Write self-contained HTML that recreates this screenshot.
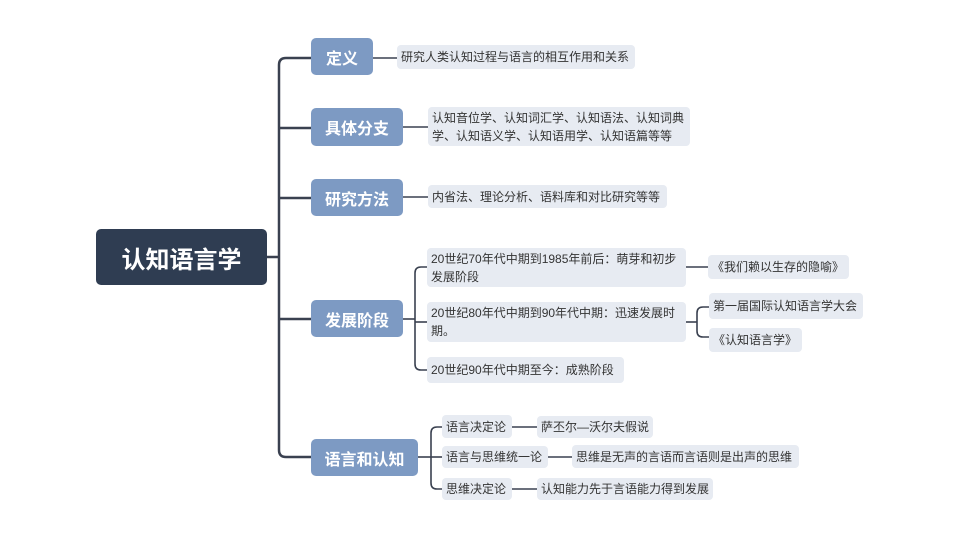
<!DOCTYPE html>
<html><head><meta charset="utf-8">
<style>
html,body{margin:0;padding:0;background:#fff;}
body{width:960px;height:540px;position:relative;overflow:hidden;font-family:"Liberation Sans","Noto Sans CJK SC",sans-serif;}
.b{position:absolute;display:flex;align-items:center;justify-content:center;color:#fff;font-weight:bold;border-radius:5px;background:#7d9ac3;font-size:16px;}
.root{background:#2f3d52;font-size:24px;border-radius:5px;}
.l{position:absolute;display:flex;align-items:center;background:#e7ebf2;color:#333;font-size:12px;line-height:18px;border-radius:4px;padding:0 4px;box-sizing:border-box;white-space:nowrap;}
svg{position:absolute;left:0;top:0;}
</style></head><body>
<svg width="960" height="540">
<g fill="none" stroke="#3a4150" stroke-width="2.5" stroke-linecap="butt">
<path d="M267 257 H279"/>
<path d="M311 58 H286 Q279 58 279 65 V450 Q279 457 286 457 H311"/>
<path d="M279 128 H311"/>
<path d="M279 198 H311"/>
<path d="M279 319 H311"/>
</g>
<g fill="none" stroke="#3a4150" stroke-width="1.6">
<path d="M373 58 H397"/>
<path d="M403 127 H428"/>
<path d="M403 197 H428"/>
<path d="M403 319 H415"/>
<path d="M427 267 H421 Q415 267 415 273 V364 Q415 370 421 370 H427"/>
<path d="M415 322 H427"/>
<path d="M686 267 H708"/>
<path d="M686 322 H697"/>
<path d="M709 307 H703 Q697 307 697 313 V331 Q697 337 703 337 H709"/>
<path d="M418 457 H431"/>
<path d="M442 427 H437 Q431 427 431 433 V483 Q431 489 437 489 H442"/>
<path d="M431 457 H442"/>
<path d="M512 427 H537"/>
<path d="M548 457 H572"/>
<path d="M512 489 H537"/>
</g>
</svg>

<div class="b root" style="left:96px;top:229px;width:171px;height:56px;">认知语言学</div>
<div class="b" style="left:311px;top:38px;width:62px;height:37px;">定义</div>
<div class="b" style="left:311px;top:108px;width:92px;height:38px;">具体分支</div>
<div class="b" style="left:311px;top:179px;width:92px;height:37px;">研究方法</div>
<div class="b" style="left:311px;top:300px;width:92px;height:37px;">发展阶段</div>
<div class="b" style="left:311px;top:439px;width:107px;height:37px;">语言和认知</div>

<div class="l" style="left:397px;top:45px;width:238px;height:24px;">研究人类认知过程与语言的相互作用和关系</div>
<div class="l" style="left:428px;top:107px;width:262px;height:39px;"><div>认知音位学、认知词汇学、认知语法、认知词典<br>学、认知语义学、认知语用学、认知语篇等等</div></div>
<div class="l" style="left:428px;top:185px;width:239px;height:23px;">内省法、理论分析、语料库和对比研究等等</div>

<div class="l" style="left:427px;top:248px;width:259px;height:39px;"><div>20世纪70年代中期到1985年前后：萌芽和初步<br>发展阶段</div></div>
<div class="l" style="left:427px;top:302px;width:259px;height:40px;"><div>20世纪80年代中期到90年代中期：迅速发展时<br>期。</div></div>
<div class="l" style="left:427px;top:357px;width:197px;height:26px;">20世纪90年代中期至今：成熟阶段</div>
<div class="l" style="left:708px;top:255px;width:141px;height:24px;">《我们赖以生存的隐喻》</div>
<div class="l" style="left:709px;top:293px;width:154px;height:26px;">第一届国际认知语言学大会</div>
<div class="l" style="left:709px;top:328px;width:93px;height:24px;">《认知语言学》</div>

<div class="l" style="left:442px;top:415px;width:70px;height:23px;">语言决定论</div>
<div class="l" style="left:442px;top:446px;width:106px;height:22px;">语言与思维统一论</div>
<div class="l" style="left:442px;top:478px;width:70px;height:22px;">思维决定论</div>
<div class="l" style="left:537px;top:416px;width:116px;height:22px;">萨丕尔—沃尔夫假说</div>
<div class="l" style="left:572px;top:445px;width:227px;height:23px;">思维是无声的言语而言语则是出声的思维</div>
<div class="l" style="left:537px;top:478px;width:176px;height:22px;">认知能力先于言语能力得到发展</div>
</body></html>
